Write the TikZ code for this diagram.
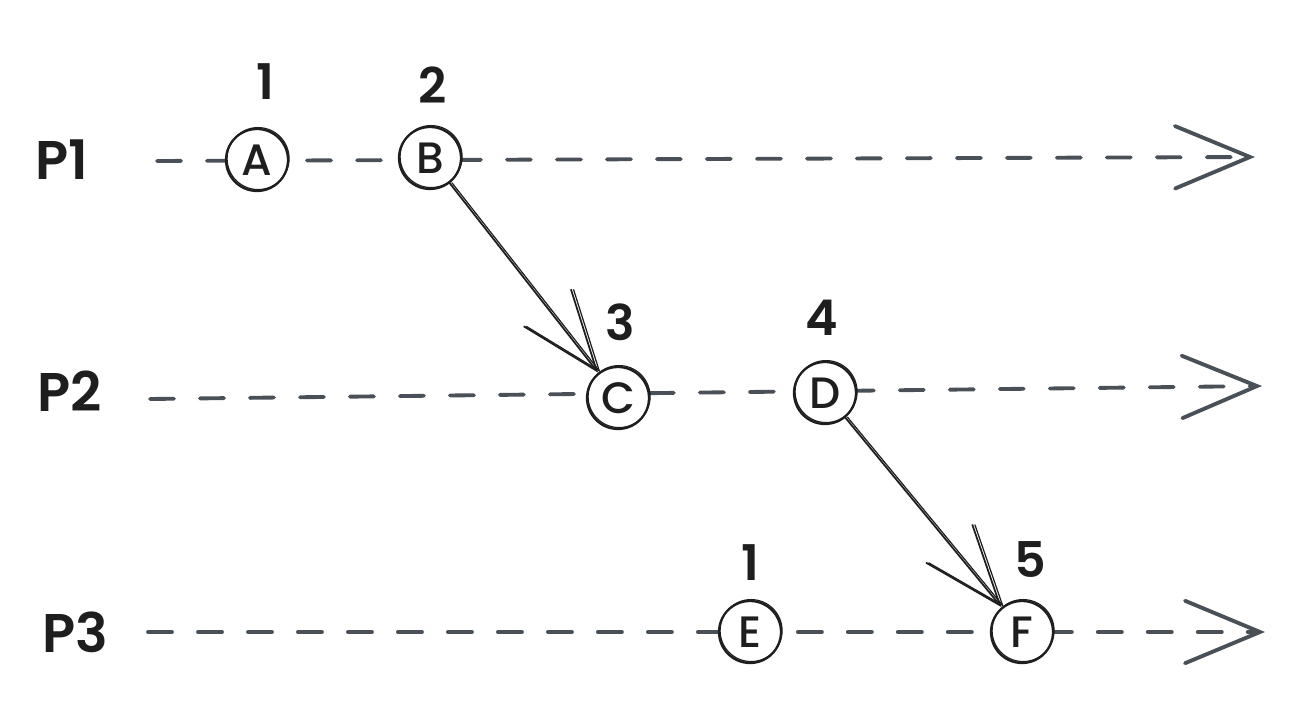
\documentclass[tikz,border=0pt]{standalone}
\usepackage{fontspec}
\setmainfont{Poppins}
\newfontfamily\labelfont{Poppins SemiBold}
\newfontfamily\eventfont{Poppins Medium}
\usetikzlibrary{arrows.meta}
\definecolor{ink}{HTML}{1E1E1E}
\definecolor{railgray}{HTML}{495057}
\begin{document}
\begin{tikzpicture}[x=0.02cm,y=-0.02cm,
  timeline/.style={draw=railgray, line width=2.2pt, line cap=round,
    dash pattern=on 0.48cm off 0.52cm,
    -{Straight Barb[length=1.5cm,width=1.25cm,line cap=round]}},
  event/.style={circle, draw=ink, fill=white, line width=1.3pt,
    minimum size=1.24cm, inner sep=0pt, text=ink,
    font=\eventfont\fontsize{25}{27}\selectfont,
    postaction={draw=ink, line width=0.7pt,
      transform canvas={shift={(0.6pt,0.8pt)}}}},
  proc/.style={text=ink, font=\labelfont\fontsize{31}{33}\selectfont},
  stamp/.style={text=ink, font=\labelfont\fontsize{28}{30}\selectfont},
  msg/.style={draw=ink, line width=1pt, line cap=round,
    -{Straight Barb[length=1.6cm,width=1.2cm]},
    postaction={draw=ink, line width=0.7pt,
      transform canvas={shift={(1.2pt,0.3pt)}}}}]
\useasboundingbox (0,0) rectangle (1298,702);

% process timelines
\coordinate (s1) at (157,161); \coordinate (e1) at (1255,157);
\coordinate (s2) at (150,399); \coordinate (e2) at (1262,386);
\coordinate (s3) at (148,632); \coordinate (e3) at (1265,632);
\draw[timeline] (s1) -- (e1);
\draw[timeline] (s2) -- (e2);
\draw[timeline] (s3) -- (e3);

% process names
\node[proc] (p1) at (62,160) {P1};
\node[proc] (p2) at (70,391) {P2};
\node[proc] (p3) at (75,632) {P3};

% events
\node[event] (A) at (257,160) {A};
\node[event] (B) at (430,158) {B};
\node[event] (C) at (618,398) {C};
\node[event] (D) at (825,393) {D};
\node[event] (E) at (750,632) {E};
\node[event] (F) at (1022,632) {F};

% logical clock values
\node[stamp] (tA) at (265,82) {1};
\node[stamp] (tB) at (433,85) {2};
\node[stamp] (tC) at (620,322) {3};
\node[stamp] (tD) at (822,318) {4};
\node[stamp] (tE) at (750,563) {1};
\node[stamp] (tF) at (1030,560) {5};

% messages
\draw[msg] (B) -- (C);
\draw[msg] (D) -- (F);
\end{tikzpicture}
\end{document}
